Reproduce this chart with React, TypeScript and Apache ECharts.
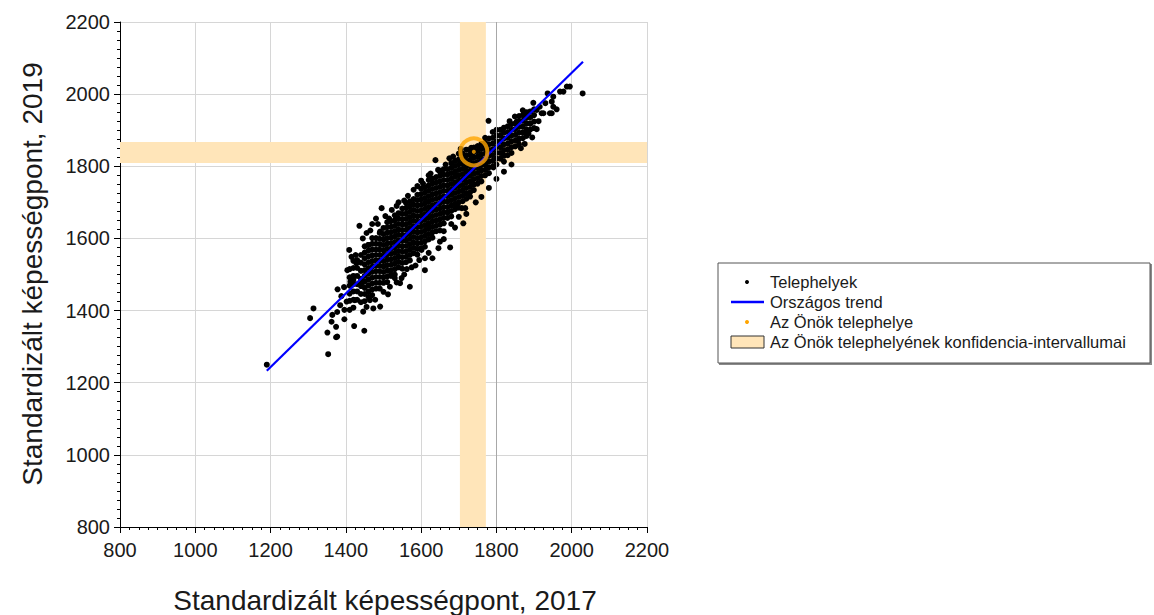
import React, { useEffect, useRef } from "react";
import * as echarts from "echarts";

const FONT = "'Liberation Sans', Arial, Helvetica, sans-serif";

// Axis ticks
const axisMin = 800;
const axisMax = 2200;
const axisStep = 200;

// Texts
const xTitle = "Standardizált képességpont, 2017";
const yTitle = "Standardizált képességpont, 2019";
const legendLabels = [
  "Telephelyek",
  "Országos trend",
  "Az Önök telephelye",
  "Az Önök telephelyének konfidencia-intervallumai",
];

// National trend line endpoints (x, y)
const trendX = [1190, 2030];
const trendY = [1233, 2090];

// Own site and its confidence intervals
const siteX = 1740;
const siteY = 1840;
const ciX = [1703, 1772];
const ciY = [1809, 1867];

// Dense core of sites: [x, list of y values]
const coreColumns: [number, number[]][] = [
  [1410, [1402, 1427, 1447, 1469, 1492, 1515]],
  [1420, [1408, 1430, 1453, 1473, 1496, 1518, 1538]],
  [1430, [1430, 1453, 1473, 1496, 1518, 1540]],
  [1440, [1423, 1446, 1468, 1488, 1510, 1533, 1554]],
  [1450, [1426, 1446, 1463, 1480, 1496, 1512, 1528, 1545, 1561, 1578]],
  [1460, [1438, 1453, 1470, 1486, 1502, 1518, 1534, 1550, 1566, 1582]],
  [1470, [1443, 1459, 1475, 1491, 1507, 1522, 1537, 1553, 1569, 1585, 1601]],
  [1480, [1461, 1477, 1493, 1509, 1524, 1539, 1554, 1569, 1585, 1601]],
  [1490, [1461, 1477, 1493, 1509, 1524, 1539, 1554, 1569, 1584, 1599, 1615]],
  [1500, [1477, 1492, 1507, 1522, 1537, 1552, 1567, 1582, 1597, 1612, 1629]],
  [1510, [1479, 1495, 1511, 1526, 1541, 1556, 1571, 1586, 1601, 1616, 1631, 1645]],
  [1520, [1496, 1512, 1527, 1542, 1557, 1572, 1587, 1602, 1617, 1632, 1648]],
  [1530, [1500, 1515, 1530, 1545, 1560, 1575, 1590, 1605, 1620, 1635, 1650, 1664]],
  [1540, [1520, 1535, 1550, 1565, 1580, 1595, 1610, 1625, 1640, 1655, 1670]],
  [1550, [1516, 1532, 1548, 1563, 1578, 1593, 1608, 1623, 1638, 1653, 1668, 1683]],
  [1560, [1534, 1549, 1564, 1579, 1594, 1609, 1624, 1639, 1654, 1669, 1684, 1698]],
  [1570, [1539, 1554, 1569, 1584, 1599, 1614, 1629, 1644, 1659, 1674, 1689, 1703]],
  [1580, [1559, 1574, 1589, 1604, 1619, 1634, 1649, 1664, 1679, 1694, 1709]],
  [1590, [1555, 1571, 1586, 1601, 1616, 1631, 1646, 1661, 1676, 1691, 1706, 1721]],
  [1600, [1573, 1588, 1603, 1618, 1633, 1648, 1663, 1678, 1693, 1708, 1723, 1738]],
  [1610, [1577, 1592, 1607, 1622, 1637, 1652, 1667, 1682, 1697, 1712, 1727, 1742]],
  [1620, [1597, 1612, 1627, 1642, 1657, 1672, 1687, 1702, 1717, 1732, 1747, 1762]],
  [1630, [1602, 1617, 1632, 1647, 1662, 1677, 1692, 1707, 1722, 1737, 1752, 1766]],
  [1640, [1620, 1635, 1650, 1665, 1680, 1695, 1710, 1725, 1740, 1755, 1770]],
  [1650, [1622, 1638, 1653, 1668, 1683, 1698, 1713, 1728, 1743, 1758, 1773, 1788]],
  [1660, [1642, 1657, 1672, 1687, 1702, 1717, 1732, 1747, 1762, 1777, 1792]],
  [1670, [1657, 1672, 1687, 1702, 1717, 1732, 1747, 1762, 1777, 1792]],
  [1680, [1661, 1676, 1691, 1706, 1721, 1736, 1751, 1766, 1781, 1796, 1809]],
  [1690, [1681, 1696, 1711, 1726, 1741, 1756, 1771, 1786, 1801, 1815]],
  [1700, [1685, 1700, 1715, 1730, 1745, 1760, 1775, 1790, 1805, 1819]],
  [1710, [1703, 1718, 1733, 1748, 1763, 1778, 1793, 1808, 1823, 1835]],
  [1720, [1710, 1725, 1740, 1755, 1770, 1785, 1800, 1815, 1830]],
  [1730, [1728, 1743, 1758, 1773, 1788, 1803, 1818, 1833, 1846]],
  [1740, [1734, 1749, 1764, 1779, 1794, 1809, 1824, 1839, 1852]],
  [1750, [1752, 1767, 1782, 1797, 1812, 1827, 1842, 1856]],
  [1760, [1758, 1773, 1788, 1803, 1818, 1833, 1848, 1862]],
  [1770, [1775, 1790, 1805, 1820, 1835, 1850, 1865, 1879]],
  [1780, [1781, 1797, 1813, 1829, 1845, 1861, 1877]],
  [1790, [1799, 1815, 1831, 1847, 1863, 1879, 1895]],
  [1800, [1805, 1821, 1837, 1853, 1869, 1885, 1901]],
  [1810, [1821, 1837, 1853, 1869, 1885, 1901]],
  [1820, [1813, 1829, 1845, 1861, 1877, 1893, 1907]],
  [1830, [1831, 1847, 1863, 1879, 1895, 1911]],
  [1840, [1837, 1853, 1869, 1885, 1901, 1917]],
  [1850, [1855, 1871, 1887, 1903, 1919]],
  [1860, [1861, 1877, 1893, 1909, 1925, 1939]],
  [1870, [1878, 1894, 1910, 1926, 1942]],
  [1880, [1884, 1902, 1918, 1934, 1950]],
  [1890, [1902, 1918, 1936, 1952]],
  [1900, [1906, 1924, 1942, 1958]],
];

// Scattered sites outside the dense core: [x, y]
const outerSites: [number, number][] = [
  [1190, 1250], [1305, 1379], [1314, 1406], [1351, 1339], [1353, 1279],
  [1362, 1369], [1364, 1388], [1374, 1326], [1377, 1396], [1378, 1459],
  [1396, 1402], [1396, 1376], [1422, 1357], [1449, 1344], [1409, 1568],
  [1415, 1549], [1404, 1512], [1436, 1635], [1374, 1355], [1377, 1328],
  [1426, 1554], [1428, 1531], [1420, 1485], [1442, 1476], [1473, 1406],
  [1491, 1411], [1464, 1429], [1446, 1397], [1402, 1425], [1424, 1429],
  [1495, 1684], [1522, 1679], [1491, 1619], [1460, 1582], [1650, 1591],
  [1677, 1575], [1646, 1573], [1610, 1545], [1610, 1512], [1601, 1568],
  [1712, 1642], [1717, 1684], [1730, 1716], [1690, 1781], [1694, 1688],
  [1570, 1466], [1544, 1476], [1517, 1466], [1638, 1817], [1685, 1827],
  [1650, 1785], [1708, 1684], [1936, 2002], [1987, 2021], [1995, 2021],
  [1978, 2007], [2029, 2002], [1951, 1993], [1947, 1979], [1951, 1965],
  [1960, 1958], [1947, 1947], [1925, 1947], [1898, 1976], [1907, 1956],
  [1880, 1938], [1889, 1919], [1907, 1903], [1880, 1891], [1854, 1924],
  [1849, 1938], [1779, 1926], [1858, 1873], [1818, 1831], [1792, 1797],
  [1969, 2007], [1920, 1947], [1942, 1947], [1885, 1891], [1720, 1846],
  [1733, 1851], [1760, 1856], [1388, 1440], [1395, 1465], [1412, 1480],
  [1385, 1415], [1455, 1615], [1470, 1640], [1480, 1655], [1530, 1490],
  [1555, 1500], [1585, 1525], [1520, 1500], [1660, 1620], [1700, 1660],
  [1680, 1640], [1540, 1700], [1580, 1735], [1620, 1775], [1600, 1760],
  [1445, 1600], [1465, 1622], [1485, 1640], [1505, 1662], [1515, 1655],
  [1535, 1690], [1555, 1705], [1565, 1718], [1590, 1745], [1605, 1752],
  [1625, 1780], [1645, 1790], [1665, 1805], [1675, 1822], [1700, 1835],
  [1705, 1848], [1455, 1410], [1478, 1430], [1500, 1452], [1512, 1445],
  [1535, 1478], [1548, 1490], [1562, 1515], [1575, 1520], [1595, 1540],
  [1620, 1560], [1630, 1545], [1660, 1598], [1690, 1630], [1720, 1668],
  [1745, 1700], [1760, 1715], [1780, 1740], [1800, 1765], [1820, 1785],
  [1840, 1805], [1865, 1850], [1875, 1862], [1895, 1880], [1912, 1925],
  [1915, 1965], [1930, 1975], [1870, 1955], [1835, 1925],
];

const sitePoints: number[][] = [
  ...coreColumns.flatMap(([x, ys]) => ys.map((y) => [x, y])),
  ...outerSites.map(([x, y]) => [x, y]),
];

const BAND = "#FFE5B9";

function buildOption(): any {
  const gridLeft = 120;
  const gridTop = 22;
  const gridW = 527;
  const gridH = 505;

  const axisCommon = {
    type: "value",
    min: axisMin,
    max: axisMax,
    interval: axisStep,
    axisLine: { show: true, onZero: false, lineStyle: { color: "#000", width: 1 } },
    axisTick: { show: true, inside: false, length: 6, lineStyle: { color: "#000" } },
    minorTick: { show: true, splitNumber: 8, length: 3, lineStyle: { color: "#000" } },
    splitLine: { show: true, lineStyle: { color: "#d6d6d6", width: 1 } },
    minorSplitLine: { show: false },
  };

  const lx = 718;
  const ly = 263;
  const rowY = [282, 302, 322, 342];

  return {
    animation: false,
    backgroundColor: "#fff",
    textStyle: { fontFamily: FONT },
    grid: { left: gridLeft, top: gridTop, width: gridW, height: gridH, containLabel: false },
    xAxis: {
      ...axisCommon,
      axisLabel: {
        fontSize: 20,
        color: "#1a1a1a",
        margin: 13,
        fontFamily: FONT,
        formatter: (v: number) => String(v),
      },
    },
    yAxis: {
      ...axisCommon,
      axisLabel: {
        fontSize: 20,
        color: "#1a1a1a",
        margin: 10,
        fontFamily: FONT,
        formatter: (v: number) => String(v),
      },
    },
    series: [
      {
        name: "bands",
        type: "scatter",
        data: [],
        z: 1,
        silent: true,
        markArea: {
          silent: true,
          itemStyle: { color: BAND, opacity: 1 },
          data: [
            [{ xAxis: ciX[0] }, { xAxis: ciX[1] }],
            [{ yAxis: ciY[0] }, { yAxis: ciY[1] }],
          ],
        },
        markLine: {
          silent: true,
          symbol: "none",
          label: { show: false },
          lineStyle: { color: "#a8a8a8", type: "solid", width: 1 },
          data: [{ xAxis: 1800 }],
        },
      },
      {
        name: "Telephelyek",
        type: "scatter",
        data: sitePoints,
        symbol: "circle",
        symbolSize: 6,
        itemStyle: { color: "#000", opacity: 1 },
        z: 3,
        silent: true,
      },
      {
        name: "Országos trend",
        type: "line",
        data: trendX.map((x, i) => [x, trendY[i]]),
        symbol: "none",
        lineStyle: { color: "#0000ff", width: 2.2 },
        z: 4,
        silent: true,
      },
      {
        name: "Az Önök telephelye kör",
        type: "scatter",
        data: [[siteX, siteY]],
        symbol: "circle",
        symbolSize: 27,
        itemStyle: { color: "rgba(0,0,0,0)", borderColor: "#FFA500", borderWidth: 4 },
        z: 5,
        silent: true,
      },
      {
        name: "Az Önök telephelye",
        type: "scatter",
        data: [[siteX, siteY]],
        symbol: "circle",
        symbolSize: 4,
        itemStyle: { color: "#FFA500" },
        z: 6,
        silent: true,
      },
    ],
    graphic: [
      {
        type: "text",
        x: 32,
        y: 274,
        rotation: Math.PI / 2,
        style: {
          text: yTitle,
          font: `28px ${FONT}`,
          fill: "#1a1a1a",
          textAlign: "center",
          textVerticalAlign: "middle",
        },
      },
      {
        type: "text",
        x: 385,
        y: 600,
        style: {
          text: xTitle,
          font: `28px ${FONT}`,
          fill: "#1a1a1a",
          textAlign: "center",
          textVerticalAlign: "middle",
        },
      },
      {
        type: "rect",
        shape: { x: lx + 1, y: ly + 1, width: 433, height: 101 },
        style: { fill: "#8a8a8a" },
      },
      {
        type: "rect",
        shape: { x: lx, y: ly, width: 432, height: 100 },
        style: { fill: "#fff", stroke: "#555", lineWidth: 1 },
      },
      {
        type: "circle",
        shape: { cx: 747, cy: rowY[0], r: 2 },
        style: { fill: "#000" },
      },
      {
        type: "line",
        shape: { x1: 731, y1: rowY[1], x2: 764, y2: rowY[1] },
        style: { stroke: "#0000ff", lineWidth: 2.5 },
      },
      {
        type: "circle",
        shape: { cx: 747, cy: rowY[2], r: 2 },
        style: { fill: "#FFA500" },
      },
      {
        type: "rect",
        shape: { x: 731, y: rowY[3] - 6, width: 33, height: 12 },
        style: { fill: BAND, stroke: "#333", lineWidth: 1 },
      },
      ...legendLabels.map((t, i) => ({
        type: "text",
        x: 770,
        y: rowY[i],
        style: {
          text: t,
          font: `16.5px ${FONT}`,
          fill: "#1a1a1a",
          textAlign: "left",
          textVerticalAlign: "middle",
        },
      })),
    ],
  };
}

export default function App() {
  const ref = useRef<HTMLDivElement>(null);
  useEffect(() => {
    document.body.style.margin = "0";
    const chart = echarts.init(ref.current as HTMLDivElement, null, { renderer: "svg" });
    chart.setOption(buildOption());
    return () => {
      chart.dispose();
    };
  }, []);
  return <div ref={ref} style={{ width: 1154, height: 615 }} />;
}
